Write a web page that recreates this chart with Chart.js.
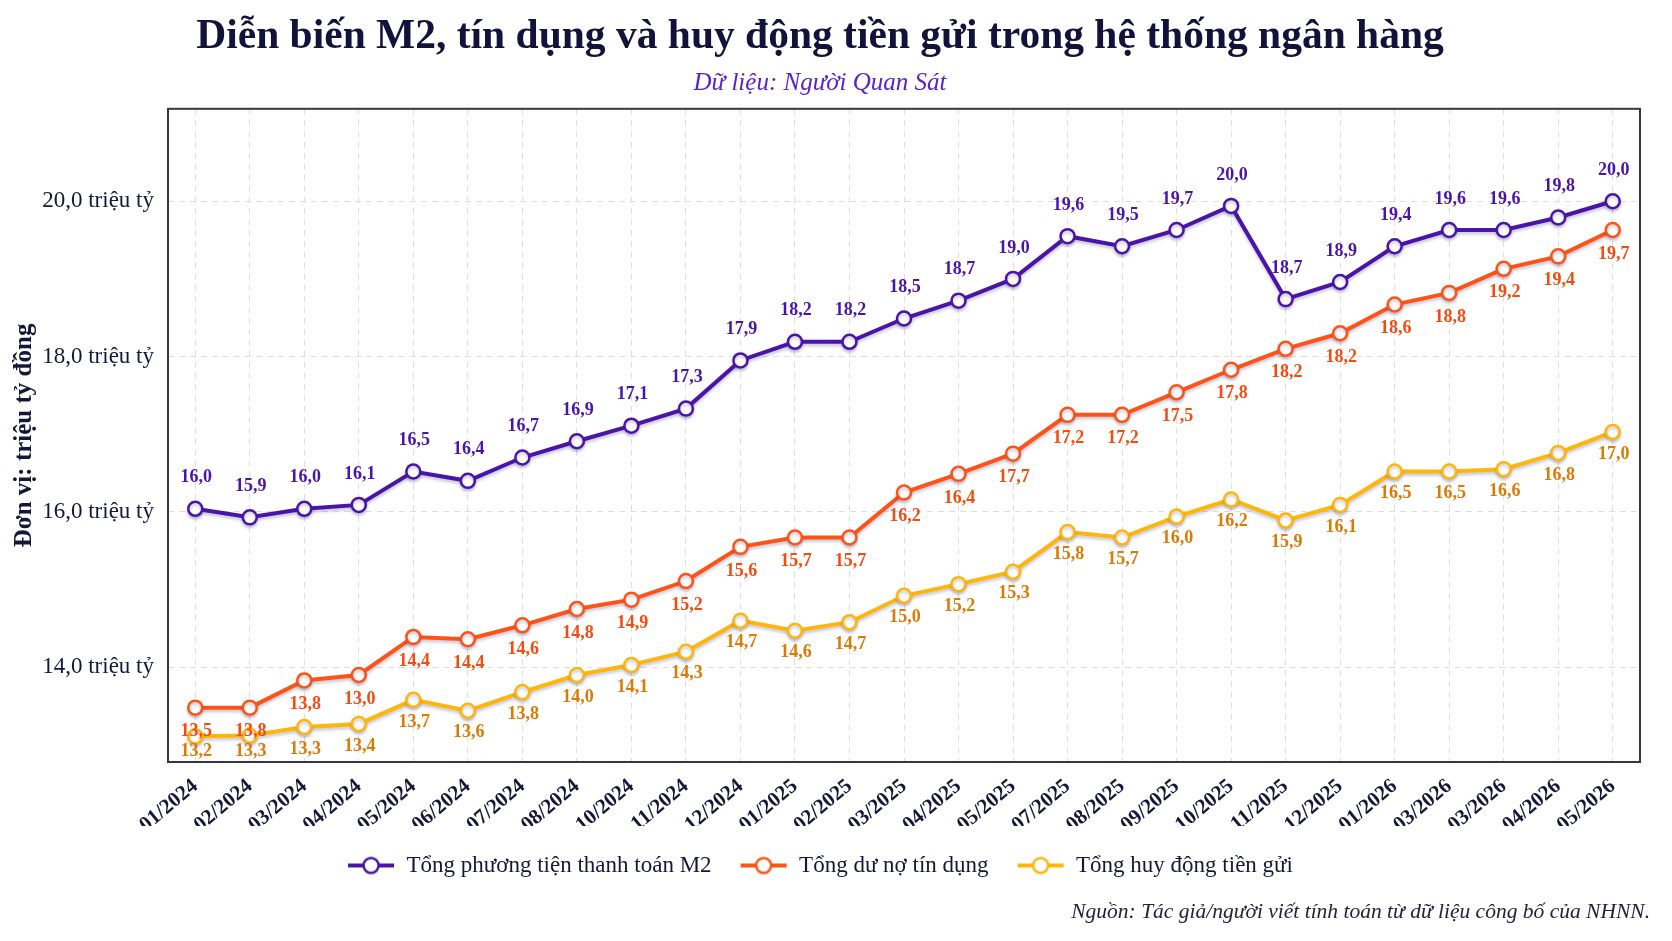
<!DOCTYPE html>
<html lang="vi">
<head>
  <meta charset="UTF-8" />
  <title>Diễn biến M2, tín dụng và huy động tiền gửi</title>
  <script src="https://cdn.jsdelivr.net/npm/chart.js"></script>
  <style>
    body {
      margin: 0;
      background: #ffffff;
    }
    #wrap {
      width: 1672px;
      height: 941px;
    }
  </style>
</head>
<body>
  <div id="wrap"><canvas id="m2Chart" width="1672" height="941"></canvas></div>

  <script>
    // Tháng (trục hoành) - giữ nguyên như hình gốc
    const months = [
      '01/2024', '02/2024', '03/2024', '04/2024', '05/2024', '06/2024', '07/2024', '08/2024', '10/2024',
      '11/2024', '12/2024', '01/2025', '02/2025', '03/2025', '04/2025', '05/2025', '07/2025', '08/2025',
      '09/2025', '10/2025', '11/2025', '12/2025', '01/2026', '03/2026', '03/2026', '04/2026', '05/2026'
    ];

    // Giá trị (triệu tỷ đồng), đọc theo vị trí điểm trên hình
    const m2Values = [16.04, 15.93, 16.04, 16.09, 16.52, 16.40, 16.70, 16.91, 17.11, 17.33, 17.95, 18.19, 18.19, 18.49,
      18.72, 19.00, 19.55, 19.42, 19.63, 19.94, 18.74, 18.96, 19.42, 19.63, 19.63, 19.79, 20.00];
    const creditValues = [13.48, 13.48, 13.83, 13.90, 14.39, 14.36, 14.54, 14.75, 14.87, 15.11, 15.55, 15.67, 15.67, 16.25,
      16.49, 16.75, 17.25, 17.25, 17.54, 17.83, 18.10, 18.30, 18.67, 18.82, 19.13, 19.29, 19.63];
    const depositValues = [13.11, 13.12, 13.23, 13.27, 13.58, 13.44, 13.68, 13.90, 14.03, 14.20, 14.60, 14.47, 14.58, 14.92,
      15.07, 15.23, 15.74, 15.67, 15.94, 16.16, 15.89, 16.09, 16.52, 16.52, 16.55, 16.76, 17.03];

    // Nhãn số in trên hình
    const m2Labels = ['16,0', '15,9', '16,0', '16,1', '16,5', '16,4', '16,7', '16,9', '17,1', '17,3', '17,9', '18,2', '18,2', '18,5',
      '18,7', '19,0', '19,6', '19,5', '19,7', '20,0', '18,7', '18,9', '19,4', '19,6', '19,6', '19,8', '20,0'];
    const creditLabels = ['13,5', '13,8', '13,8', '13,0', '14,4', '14,4', '14,6', '14,8', '14,9', '15,2', '15,6', '15,7', '15,7', '16,2',
      '16,4', '17,7', '17,2', '17,2', '17,5', '17,8', '18,2', '18,2', '18,6', '18,8', '19,2', '19,4', '19,7'];
    const depositLabels = ['13,2', '13,3', '13,3', '13,4', '13,7', '13,6', '13,8', '14,0', '14,1', '14,3', '14,7', '14,6', '14,7', '15,0',
      '15,2', '15,3', '15,8', '15,7', '16,0', '16,2', '15,9', '16,1', '16,5', '16,5', '16,6', '16,8', '17,0'];

    const yTicks = [14, 16, 18, 20];

    const SERIF = "'Liberation Serif', 'DejaVu Serif', serif";
    const INK = '#16163a';

    // icon cho chú thích: đường kẻ + vòng tròn
    function legendIcon(color) {
      const c = document.createElement('canvas');
      c.width = 48;
      c.height = 20;
      const g = c.getContext('2d');
      g.strokeStyle = color;
      g.lineWidth = 4;
      g.beginPath();
      g.moveTo(1, 10);
      g.lineTo(47, 10);
      g.stroke();
      g.beginPath();
      g.arc(24, 10, 7.5, 0, Math.PI * 2);
      g.fillStyle = '#ffffff';
      g.fill();
      g.lineWidth = 2.5;
      g.stroke();
      return c;
    }

    const series = [
      { name: 'Tổng phương tiện thanh toán M2', data: m2Values, labels: m2Labels, color: '#4a14a8', text: '#4a14a8', dy: -31 },
      { name: 'Tổng dư nợ tín dụng', data: creditValues, labels: creditLabels, color: '#ff5216', text: '#f24c12', dy: 24 },
      { name: 'Tổng huy động tiền gửi', data: depositValues, labels: depositLabels, color: '#ffb60a', text: '#dc7a06', dy: 22 }
    ];

    // bóng mờ nhẹ dưới các đường
    const lineShadow = {
      id: 'lineShadow',
      beforeDatasetDraw(chart) {
        const ctx = chart.ctx;
        ctx.save();
        ctx.shadowColor = 'rgba(70, 60, 110, 0.28)';
        ctx.shadowBlur = 3;
        ctx.shadowOffsetY = 2.5;
      },
      afterDatasetDraw(chart) {
        chart.ctx.restore();
      }
    };

    const valueLabels = {
      id: 'valueLabels',
      afterDatasetsDraw(chart) {
        const ctx = chart.ctx;
        const area = chart.chartArea;
        ctx.save();
        ctx.font = 'bold 18px ' + SERIF;
        ctx.textAlign = 'center';
        ctx.textBaseline = 'middle';
        series.forEach((s, i) => {
          const meta = chart.getDatasetMeta(i);
          meta.data.forEach((pt, j) => {
            let y = pt.y + s.dy;
            if (y > area.bottom - 11) y = area.bottom - 11;
            ctx.fillStyle = s.text;
            ctx.fillText(s.labels[j], pt.x + 1, y);
          });
        });
        ctx.restore();
      }
    };

    const frameAndNote = {
      id: 'frameAndNote',
      afterDraw(chart) {
        const ctx = chart.ctx;
        const a = chart.chartArea;
        ctx.save();
        ctx.strokeStyle = '#34344a';
        ctx.lineWidth = 2;
        ctx.strokeRect(a.left, a.top, a.right - a.left, a.bottom - a.top);
        ctx.font = 'italic 21.5px ' + SERIF;
        ctx.fillStyle = '#22223a';
        ctx.textAlign = 'right';
        ctx.textBaseline = 'middle';
        ctx.fillText('Nguồn: Tác giả/người viết tính toán từ dữ liệu công bố của NHNN.', 1650, 912);
        ctx.restore();
      }
    };

    new Chart(document.getElementById('m2Chart').getContext('2d'), {
      type: 'line',
      data: {
        labels: months,
        datasets: series.map(s => ({
          label: s.name,
          data: s.data,
          borderColor: s.color,
          borderWidth: 4,
          backgroundColor: '#ffffff',
          pointBackgroundColor: '#ffffff',
          pointBorderColor: s.color,
          pointBorderWidth: 2.5,
          pointRadius: 7,
          tension: 0,
          clip: false
        }))
      },
      options: {
        responsive: false,
        animation: false,
        layout: { padding: { top: 0, right: 32, bottom: 54, left: 0 } },
        scales: {
          x: {
            offset: true,
            grid: { color: '#dedede', drawTicks: false, offset: false },
            border: { display: false, dash: [6, 5] },
            ticks: {
              minRotation: 40,
              maxRotation: 40,
              padding: 12,
              color: INK,
              font: { family: SERIF, size: 21, weight: 'bold' }
            },
            afterFit(scale) { scale.height = 64; }
          },
          y: {
            min: 12.78,
            max: 21.19,
            grid: { color: '#dedede', drawTicks: false },
            border: { display: false, dash: [6, 5] },
            afterBuildTicks(scale) { scale.ticks = yTicks.map(v => ({ value: v })); },
            ticks: {
              padding: 14,
              color: INK,
              font: { family: SERIF, size: 23 },
              callback: v => v.toFixed(1).replace('.', ',') + ' triệu tỷ'
            },
            title: {
              display: true,
              text: 'Đơn vị: triệu tỷ đồng',
              color: INK,
              padding: { top: 10, bottom: 0 },
              font: { family: SERIF, size: 25, weight: 'bold' }
            },
            afterFit(scale) { scale.width = 168; }
          }
        },
        plugins: {
          title: {
            display: true,
            text: 'Diễn biến M2, tín dụng và huy động tiền gửi trong hệ thống ngân hàng',
            color: '#12123a',
            padding: { top: 12, bottom: 0 },
            font: { family: SERIF, size: 41.5, weight: 'bold' }
          },
          subtitle: {
            display: true,
            text: 'Dữ liệu: Người Quan Sát',
            color: '#5a22c8',
            padding: { top: 7, bottom: 10 },
            font: { family: SERIF, size: 25, style: 'italic' }
          },
          legend: {
            position: 'bottom',
            labels: {
              usePointStyle: true,
              pointStyleWidth: 48,
              padding: 28,
              color: INK,
              font: { family: SERIF, size: 23 },
              generateLabels(chart) {
                return series.map((s, i) => ({
                  text: s.name,
                  datasetIndex: i,
                  pointStyle: legendIcon(s.color),
                  fillStyle: '#ffffff',
                  strokeStyle: s.color,
                  lineWidth: 0,
                  fontColor: INK,
                  hidden: !chart.isDatasetVisible(i)
                }));
              }
            }
          },
          tooltip: { enabled: false }
        }
      },
      plugins: [lineShadow, valueLabels, frameAndNote]
    });
  </script>
</body>
</html>
